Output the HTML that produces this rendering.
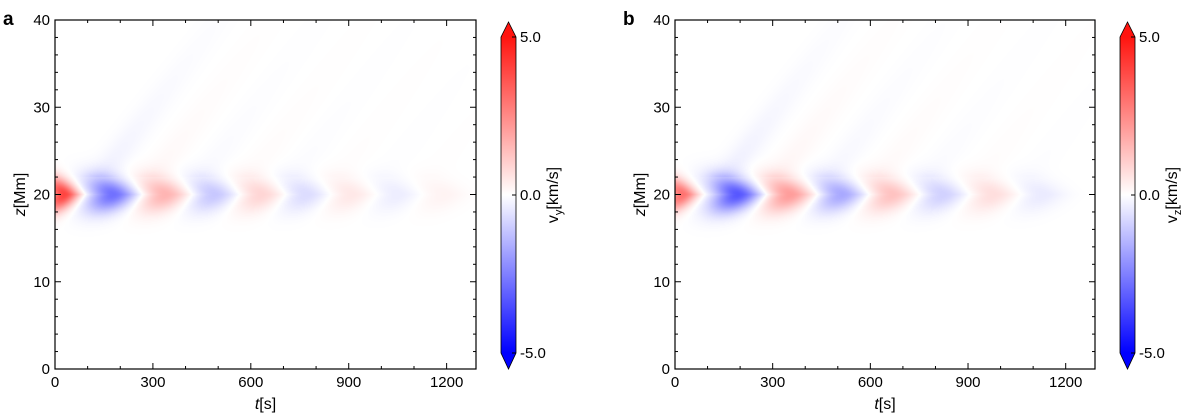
<!DOCTYPE html>
<html><head><meta charset="utf-8">
<style>
body{margin:0;background:#fff;width:1200px;height:416px;overflow:hidden;font-family:"Liberation Sans","DejaVu Sans",sans-serif;}
svg{position:absolute;left:0;top:0}
canvas{position:absolute}
</style></head>
<body>
<canvas id="ca"></canvas>
<canvas id="cb"></canvas>
<svg id="s" width="1200" height="416"></svg>
<script>
// data: wave packet centres (s), amplitudes (km/s)
const packetTimesA=[30,180,340,490,635,770,910,1050,1190];
const packetAmpsA=[4.0,-2.8,1.6,-1.1,0.9,-0.7,0.5,-0.35,0.25];
const packetTimesB=[25,195,355,515,670,825,980,1130];
const packetAmpsB=[3.0,-3.3,2.1,-1.7,1.3,-0.9,0.7,-0.4];
const xTicks=[0,300,600,900,1200];
const yTicks=[0,10,20,30,40];
const cbTicks=[-5,0,5];
const tMax=1290, zMax=40, vMax=5;

const NS="http://www.w3.org/2000/svg";
const svg=document.getElementById('s');
function el(tag,attrs,parent){const e=document.createElementNS(NS,tag);for(const k in attrs)e.setAttribute(k,attrs[k]);(parent||svg).appendChild(e);return e;}

function cmap(v){let u=Math.max(-1,Math.min(1,v/vMax));
  if(u>=0){return [255,Math.round(255-235*u),Math.round(255-240*u)];}
  u=-u;return [Math.round(255*(1-u)),Math.round(255*(1-u)),255];}

function field(t,z,times,amps,arm){
  const dz=z-20; const adz=Math.abs(dz); let v=0;
  for(let i=0;i<times.length;i++){
    const tc=times[i]-arm*adz*18;
    const w=i==0?45:68;
    const core=Math.exp(-Math.pow((t-tc)/w,2))*Math.exp(-Math.pow(dz/2.0,2));
    let streak=0;
    if(dz>2&&i>0){streak=0.1*Math.exp(-Math.pow((t-times[i]+40-20*(dz-2))/50,2))*Math.exp(-(dz-2)/10);}
    v+=amps[i]*(core+streak);
  }
  return v;
}

function panel(cfg){
  const {L,R,T,B,canvasId,times,amps,sub,cbL,letter,name}=cfg;
  const W=R-L,H=B-T;
  const cv=document.getElementById(canvasId);
  cv.width=W;cv.height=H;cv.style.left=L+'px';cv.style.top=T+'px';
  const ctx=cv.getContext('2d');const img=ctx.createImageData(W,H);
  for(let py=0;py<H;py++){const z=zMax*(1-(py+0.5)/H);
    for(let px=0;px<W;px++){const t=tMax*(px+0.5)/W;
      const c=cmap(field(t,z,times,amps,cfg.arm));const k=(py*W+px)*4;
      img.data[k]=c[0];img.data[k+1]=c[1];img.data[k+2]=c[2];img.data[k+3]=255;}}
  ctx.putImageData(img,0,0);
  const xs=t=>L+t/tMax*W, ys=z=>B-z/zMax*H;
  const g=el('g',{});
  el('rect',{x:L,y:T,width:W,height:H,fill:'none',stroke:'#000','stroke-width':1.2},g);
  for(let t=0;t<=tMax;t+=100){const major=t%300==0,len=major?6:3;const x=xs(t);
    el('line',{x1:x,x2:x,y1:B,y2:B-len,stroke:'#000'},g);el('line',{x1:x,x2:x,y1:T,y2:T+len,stroke:'#000'},g);}
  xTicks.forEach(t=>{const tx=el('text',{x:xs(t),y:B+18,'font-size':15,'text-anchor':'middle'},g);tx.textContent=t;
    });
  for(let z=0;z<=zMax;z+=2){const major=z%10==0,len=major?6:3;const y=ys(z);
    el('line',{x1:L,x2:L+len,y1:y,y2:y,stroke:'#000'},g);el('line',{x1:R,x2:R-len,y1:y,y2:y,stroke:'#000'},g);}
  yTicks.forEach(z=>{const tx=el('text',{x:L-5,y:ys(z)+5,'font-size':15,'text-anchor':'end'},g);tx.textContent=z;
    });
  const xt=el('text',{x:(L+R)/2,y:B+40,'font-size':16,'text-anchor':'middle'},g);
  xt.innerHTML='<tspan font-style="italic">t</tspan>[s]';
  const yt=el('text',{x:0,y:0,'font-size':16,'text-anchor':'middle',transform:`translate(${L-30},${(T+B)/2}) rotate(-90)`},g);
  yt.innerHTML='<tspan font-style="italic">z</tspan>[Mm]';
  const lt=el('text',{x:L-52,y:T+5,'font-size':19,'font-weight':'bold'},g);lt.textContent=letter;
  
  const cb=el('g',{});
  const cT=37,cB=353,cw=15;const gid='grad'+letter;
  const defs=el('defs',{},cb);const lg=el('linearGradient',{id:gid,x1:0,y1:1,x2:0,y2:0},defs);
  for(let i=0;i<=20;i++){const c=cmap(-vMax+2*vMax*i/20);el('stop',{offset:i/20,'stop-color':`rgb(${c})`},lg);}
  el('rect',{x:cbL,y:cT,width:cw,height:cB-cT,fill:`url(#${gid})`},cb);
  const cr=cmap(vMax),cbl=cmap(-vMax);
  el('polygon',{points:`${cbL},${cT} ${cbL+cw/2},${cT-15} ${cbL+cw},${cT}`,fill:`rgb(${cr})`},cb);
  el('polygon',{points:`${cbL},${cB} ${cbL+cw/2},${cB+16} ${cbL+cw},${cB}`,fill:`rgb(${cbl})`},cb);
  el('polygon',{points:`${cbL},${cT} ${cbL+cw/2},${cT-15} ${cbL+cw},${cT} ${cbL+cw},${cB} ${cbL+cw/2},${cB+16} ${cbL},${cB}`,fill:'none',stroke:'#000','stroke-width':0.8},cb);
  cbTicks.forEach(v=>{const y=cB-(v+vMax)/(2*vMax)*(cB-cT);
    el('line',{x1:cbL+cw,x2:cbL+cw-4,y1:y,y2:y,stroke:'#000'},cb);
    const tx=el('text',{x:cbL+cw+4,y:y+5,'font-size':15},cb);tx.textContent=v.toFixed(1);
    });
  const ct=el('text',{x:0,y:0,'font-size':16,'text-anchor':'middle',transform:`translate(${cbL+cw+42},${(cT+cB)/2}) rotate(-90)`},cb);
  ct.innerHTML=`v<tspan font-size="11" dy="4">${sub}</tspan><tspan dy="-4">[km/s]</tspan>`;
  
}
panel({L:55,R:476,T:20,B:369,canvasId:'ca',times:packetTimesA,amps:packetAmpsA,sub:'y',cbL:501,letter:'a',name:'panel-a',arm:1.0});
panel({L:675,R:1095,T:20,B:369,canvasId:'cb',times:packetTimesB,amps:packetAmpsB,sub:'z',cbL:1120,letter:'b',name:'panel-b',arm:1.1});
</script>
</body></html>
